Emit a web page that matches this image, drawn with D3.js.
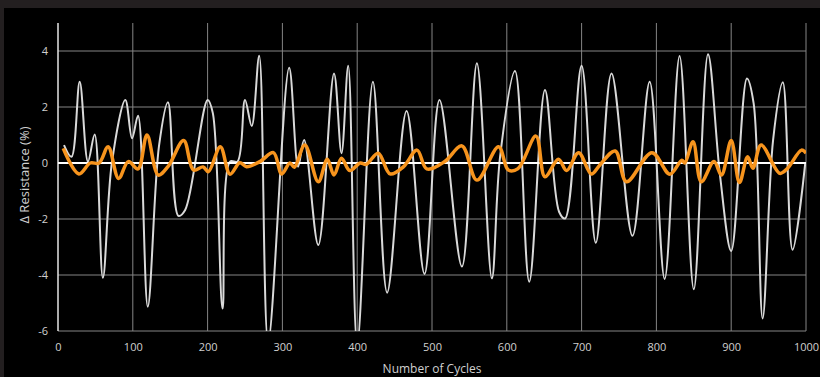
<!DOCTYPE html>
<html>
<head>
<meta charset="utf-8">
<script src="https://cdn.jsdelivr.net/npm/d3@7"></script>
<style>
  html, body { margin: 0; padding: 0; background: #231f20; }
  svg { display: block; }
</style>
</head>
<body>
<div id="chart"></div>
<script>
// white trace (cycle, delta resistance %)
const whiteCycles = [8, 18, 29, 40, 49, 60, 72, 90, 99, 107, 120, 135, 147, 161, 170, 200, 207, 220, 230, 240, 250, 259, 269, 281, 309, 321, 329, 348, 369, 379, 388, 400, 421, 440, 466, 490, 510, 540, 560, 580, 591, 611, 630, 651, 670, 678, 700, 719, 740, 768, 791, 811, 831, 850, 869, 885, 900, 921, 930, 942, 956, 969, 982, 999];
const whiteValues = [0.64, 0.22, 2.9, 0.05, 1.02, -4.1, 0.0, 2.25, 0.88, 1.69, -5.13, 0.6, 2.17, -1.89, -1.68, 2.25, 1.78, -5.2, 0.05, 0.05, 2.25, 1.32, 3.83, -6.4, 3.4, -0.13, 0.82, -2.93, 3.2, 0.35, 3.47, -6.5, 2.9, -4.63, 1.86, -3.96, 2.25, -3.7, 3.56, -4.12, 0.22, 3.29, -4.24, 2.61, -1.75, -1.98, 3.47, -2.85, 3.2, -2.6, 2.9, -4.14, 3.82, -4.51, 3.88, -0.43, -3.14, 3.02, 2.13, -5.55, 0.82, 2.88, -3.1, 0.0];

// orange trace
const orangeCycles = [7, 28, 43, 55, 67, 81, 94, 107, 119, 134, 147, 168, 181, 194, 201, 217, 230, 243, 252, 270, 288, 299, 310, 316, 330, 348, 360, 369, 379, 390, 404, 412, 428, 444, 462, 480, 493, 517, 540, 560, 589, 602, 615, 639, 651, 669, 680, 696, 713, 725, 745, 760, 794, 818, 834, 838, 849, 860, 877, 887, 900, 911, 922, 929, 940, 965, 975, 994, 1000];
const orangeValues = [0.52, -0.39, 0.0, 0.0, 0.58, -0.55, 0.05, -0.21, 1.0, -0.43, -0.13, 0.8, -0.25, -0.14, -0.31, 0.58, -0.4, 0.01, -0.13, 0.05, 0.37, -0.39, 0.0, -0.15, 0.64, -0.67, 0.13, -0.43, 0.17, -0.27, 0.0, -0.05, 0.35, -0.39, -0.13, 0.46, -0.21, 0.05, 0.61, -0.61, 0.58, -0.25, -0.2, 0.96, -0.49, 0.13, -0.27, 0.37, -0.39, -0.05, 0.43, -0.67, 0.37, -0.4, 0.1, 0.0, 0.76, -0.67, 0.05, -0.43, 0.8, -0.7, 0.22, -0.19, 0.64, -0.37, -0.2, 0.46, 0.35];

const xTicks = [0, 100, 200, 300, 400, 500, 600, 700, 800, 900, 1000];
const yTicks = [-6, -4, -2, 0, 2, 4];

const W = 820, H = 377;
const margin = {top: 23, right: 14, bottom: 46, left: 58};
const width = W - margin.left - margin.right;
const height = H - margin.top - margin.bottom;

const svg = d3.select('#chart')
  .append('svg')
  .attr('width', W)
  .attr('height', H);

// dark frame at top/left, black panel
svg.append('rect').attr('width', W).attr('height', H).attr('fill', '#231f20');
svg.append('rect').attr('x', 4).attr('y', 8).attr('width', W - 4).attr('height', H - 8).attr('fill', '#000');

const g = svg.append('g')
  .attr('transform', 'translate(' + margin.left + ',' + margin.top + ')');

const x = d3.scaleLinear().domain([0, 1000]).range([0, width]);
const y = d3.scaleLinear().domain([-6, 5]).range([height, 0]);

// gridlines
g.append('g')
  .selectAll('line.h')
  .data(yTicks)
  .enter()
  .append('line')
  .attr('x1', 0).attr('x2', width)
  .attr('y1', d => y(d)).attr('y2', d => y(d))
  .attr('stroke', '#858585')
  .attr('stroke-width', 1);

g.append('g')
  .selectAll('line.v')
  .data(xTicks.slice(1))
  .enter()
  .append('line')
  .attr('x1', d => x(d)).attr('x2', d => x(d))
  .attr('y1', 0).attr('y2', height)
  .attr('stroke', '#858585')
  .attr('stroke-width', 1);

// axes (labels only), plain hyphen for negatives like the source
const xAxis = g.append('g')
  .attr('transform', 'translate(0,' + height + ')')
  .call(d3.axisBottom(x).tickValues(xTicks).tickFormat(d => String(d)).tickSize(0).tickPadding(12));
const yAxis = g.append('g')
  .call(d3.axisLeft(y).tickValues(yTicks).tickFormat(d => String(d)).tickSize(0).tickPadding(10));

[xAxis, yAxis].forEach(a => {
  a.select('.domain').remove();
  a.selectAll('text')
    .attr('fill', '#d0d0d0')
    .style('font-family', '"Open Sans", sans-serif')
    .style('font-size', '11px');
});

// left axis line
g.append('line')
  .attr('x1', 0).attr('x2', 0)
  .attr('y1', 0).attr('y2', height)
  .attr('stroke', '#e6e6e6')
  .attr('stroke-width', 1.5);

// clip for the traces
svg.append('clipPath').attr('id', 'clip')
  .append('rect').attr('width', width).attr('height', height);

const line = d3.line()
  .x(d => x(d[0]))
  .y(d => y(d[1]))
  .curve(d3.curveCatmullRom.alpha(0.5));

const plot = g.append('g').attr('clip-path', 'url(#clip)');

plot.append('path')
  .datum(d3.zip(whiteCycles, whiteValues))
  .attr('d', line)
  .attr('fill', 'none')
  .attr('stroke', '#d9d9d9')
  .attr('stroke-width', 2);

// zero line
plot.append('line')
  .attr('x1', 0).attr('x2', width)
  .attr('y1', y(0)).attr('y2', y(0))
  .attr('stroke', '#ffffff')
  .attr('stroke-width', 2);

plot.append('path')
  .datum(d3.zip(orangeCycles, orangeValues))
  .attr('d', line)
  .attr('fill', 'none')
  .attr('stroke', '#f7941d')
  .attr('stroke-width', 3.5)
  .attr('stroke-linejoin', 'round');

// axis titles
svg.append('text')
  .attr('x', margin.left + x(500))
  .attr('y', 373)
  .attr('text-anchor', 'middle')
  .attr('fill', '#d0d0d0')
  .style('font-family', '"Open Sans", sans-serif')
  .style('font-size', '12px')
  .text('Number of Cycles');

svg.append('text')
  .attr('transform', 'translate(29,' + (margin.top + y(0) + 12) + ') rotate(-90)')
  .attr('text-anchor', 'middle')
  .attr('fill', '#d0d0d0')
  .style('font-family', '"Open Sans", sans-serif')
  .style('font-size', '13px')
  .text('Δ Resistance (%)');
</script>
</body>
</html>
